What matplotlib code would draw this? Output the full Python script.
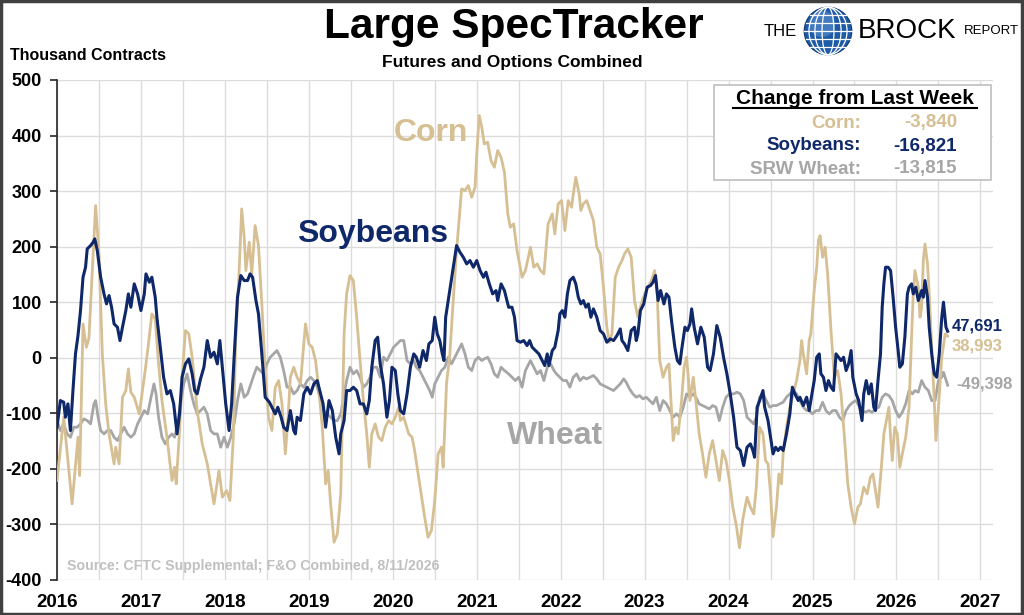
import matplotlib
matplotlib.use("Agg")
import matplotlib.pyplot as plt
from matplotlib.patches import Rectangle, Circle, Ellipse
import numpy as np

plt.rcParams['font.family'] = ['Liberation Sans', 'DejaVu Sans']
plt.rcParams['axes.unicode_minus'] = False

# ---- data (thousand contracts, decimal year) ----
corn_t = [2016.00, 2016.08, 2016.18, 2016.25, 2016.27, 2016.31, 2016.35, 2016.38, 2016.46, 2016.50,
          2016.54, 2016.58, 2016.62, 2016.68, 2016.70, 2016.74, 2016.78, 2016.82, 2016.85, 2016.88,
          2016.92, 2016.98, 2017.04, 2017.08, 2017.13, 2017.17, 2017.21, 2017.25, 2017.31, 2017.37,
          2017.40, 2017.42, 2017.46, 2017.49, 2017.53, 2017.57, 2017.61, 2017.67, 2017.73, 2017.79,
          2017.87, 2017.93, 2017.97, 2018.02, 2018.06, 2018.10, 2018.13, 2018.17, 2018.20, 2018.23,
          2018.25, 2018.29, 2018.32, 2018.36, 2018.40, 2018.44, 2018.48, 2018.52, 2018.56, 2018.60,
          2018.64, 2018.68, 2018.72, 2018.75, 2018.78, 2018.82, 2018.86, 2018.90, 2018.96, 2019.00,
          2019.04, 2019.08, 2019.12, 2019.16, 2019.20, 2019.23, 2019.26, 2019.30, 2019.34, 2019.38,
          2019.42, 2019.45, 2019.49, 2019.53, 2019.57, 2019.61, 2019.65, 2019.69, 2019.72, 2019.75,
          2019.79, 2019.83, 2019.87, 2019.91, 2019.95, 2019.99, 2020.03, 2020.07, 2020.09, 2020.13,
          2020.19, 2020.23, 2020.26, 2020.32, 2020.38, 2020.42, 2020.46, 2020.50, 2020.54, 2020.58,
          2020.60, 2020.64, 2020.68, 2020.72, 2020.76, 2020.82, 2020.86, 2020.90, 2020.94, 2020.98,
          2021.00, 2021.03, 2021.06, 2021.09, 2021.13, 2021.17, 2021.21, 2021.25, 2021.29, 2021.33,
          2021.37, 2021.40, 2021.44, 2021.48, 2021.54, 2021.58, 2021.64, 2021.68, 2021.72, 2021.76,
          2021.80, 2021.82, 2021.85, 2021.90, 2021.93, 2021.97, 2022.01, 2022.05, 2022.09, 2022.13,
          2022.15, 2022.18, 2022.22, 2022.24, 2022.27, 2022.31, 2022.35, 2022.39, 2022.43, 2022.47,
          2022.51, 2022.55, 2022.58, 2022.61, 2022.65, 2022.69, 2022.73, 2022.76, 2022.80, 2022.84,
          2022.88, 2022.92, 2022.96, 2023.00, 2023.04, 2023.08, 2023.12, 2023.15, 2023.18, 2023.22,
          2023.26, 2023.29, 2023.32, 2023.34, 2023.37, 2023.40, 2023.44, 2023.47, 2023.50, 2023.52,
          2023.54, 2023.58, 2023.61, 2023.65, 2023.69, 2023.73, 2023.77, 2023.81, 2023.85, 2023.89,
          2023.93, 2023.97, 2024.01, 2024.05, 2024.09, 2024.13, 2024.17, 2024.22, 2024.26, 2024.30,
          2024.33, 2024.37, 2024.41, 2024.44, 2024.47, 2024.50, 2024.53, 2024.57, 2024.60, 2024.63,
          2024.65, 2024.69, 2024.73, 2024.77, 2024.81, 2024.85, 2024.87, 2024.89, 2024.93, 2024.96,
          2024.98, 2025.02, 2025.05, 2025.07, 2025.09, 2025.12, 2025.15, 2025.18, 2025.22, 2025.26,
          2025.30, 2025.34, 2025.38, 2025.42, 2025.46, 2025.50, 2025.54, 2025.57, 2025.61, 2025.65,
          2025.69, 2025.72, 2025.75, 2025.78, 2025.82, 2025.85, 2025.88, 2025.91, 2025.93, 2025.95,
          2025.98, 2026.01, 2026.04, 2026.07, 2026.11, 2026.15, 2026.18, 2026.20, 2026.22, 2026.26,
          2026.28, 2026.30, 2026.32, 2026.34, 2026.37, 2026.39, 2026.42, 2026.45, 2026.47, 2026.50,
          2026.54, 2026.58, 2026.61]
corn_v = [-221, -107, -263, -143, -212, 61, 19, 35, 274, 187,
          7, -83, -137, -191, -161, -191, -71, -59, -20, -62,
          -71, -101, -35, 13, 79, 70, -11, -77, -143, -221,
          -197, -227, -131, -35, 49, 43, 1, -95, -155, -191,
          -263, -203, -251, -239, -257, -143, 37, 157, 268, 217,
          157, 208, 151, 238, 202, 97, -23, -107, -131, -53,
          -41, -83, -173, -113, -35, -17, -35, -47, 61, 25,
          19, -5, -59, -125, -227, -203, -263, -332, -317, -245,
          43, 115, 148, 139, 73, -5, -77, -137, -197, -137,
          -119, -143, -149, -125, -113, -119, -107, -89, -113, -107,
          -137, -143, -167, -227, -287, -323, -311, -257, -173, -161,
          -197, -47, 7, 103, 193, 304, 301, 310, 289, 307,
          367, 436, 415, 385, 388, 355, 343, 373, 361, 334,
          259, 235, 241, 193, 145, 157, 199, 163, 169, 157,
          151, 187, 241, 259, 223, 277, 283, 229, 283, 271,
          295, 325, 295, 265, 277, 283, 265, 247, 199, 187,
          127, 55, 28, 43, 145, 163, 175, 187, 196, 181,
          103, 73, 97, 115, 127, 139, 157, 115, -5, -35,
          -17, -11, -95, -149, -125, -137, -77, -17, 1, -35,
          -77, -35, -77, -137, -173, -215, -173, -149, -185, -221,
          -167, -185, -221, -269, -300, -342, -290, -251, -269, -281,
          -233, -125, -137, -185, -191, -245, -322, -269, -209, -227,
          -173, -125, -89, -65, -41, -5, 31, 7, -29, 31,
          43, 121, 163, 211, 220, 181, 199, 151, 49, -35,
          -23, -65, -143, -227, -269, -299, -269, -263, -233, -245,
          -215, -209, -239, -269, -197, -137, -113, -89, -143, -185,
          -125, -137, -197, -173, -143, -89, 37, 115, 157, 127,
          73, 91, 175, 205, 169, 115, 19, -77, -149, -89,
          1, 43, 38.993]

soy_t = [2016.00, 2016.04, 2016.08, 2016.10, 2016.13, 2016.16, 2016.19, 2016.22, 2016.25, 2016.28,
         2016.31, 2016.34, 2016.36, 2016.40, 2016.43, 2016.45, 2016.48, 2016.52, 2016.56, 2016.59,
         2016.62, 2016.65, 2016.68, 2016.72, 2016.75, 2016.78, 2016.82, 2016.85, 2016.88, 2016.92,
         2016.96, 2017.00, 2017.04, 2017.06, 2017.10, 2017.13, 2017.17, 2017.19, 2017.23, 2017.27,
         2017.31, 2017.35, 2017.39, 2017.43, 2017.46, 2017.49, 2017.53, 2017.57, 2017.61, 2017.64,
         2017.67, 2017.71, 2017.75, 2017.79, 2017.83, 2017.87, 2017.91, 2017.94, 2017.97, 2018.01,
         2018.05, 2018.08, 2018.11, 2018.15, 2018.19, 2018.23, 2018.27, 2018.30, 2018.33, 2018.37,
         2018.40, 2018.44, 2018.48, 2018.53, 2018.56, 2018.60, 2018.63, 2018.67, 2018.70, 2018.74,
         2018.78, 2018.82, 2018.84, 2018.86, 2018.90, 2018.94, 2018.98, 2019.02, 2019.06, 2019.10,
         2019.14, 2019.17, 2019.20, 2019.24, 2019.28, 2019.32, 2019.36, 2019.38, 2019.42, 2019.45,
         2019.49, 2019.53, 2019.57, 2019.61, 2019.65, 2019.69, 2019.72, 2019.75, 2019.79, 2019.82,
         2019.85, 2019.89, 2019.93, 2019.96, 2019.99, 2020.03, 2020.06, 2020.09, 2020.13, 2020.17,
         2020.21, 2020.25, 2020.28, 2020.32, 2020.36, 2020.40, 2020.43, 2020.47, 2020.50, 2020.53,
         2020.56, 2020.59, 2020.61, 2020.63, 2020.66, 2020.69, 2020.72, 2020.76, 2020.80, 2020.84,
         2020.88, 2020.92, 2020.96, 2021.00, 2021.04, 2021.08, 2021.11, 2021.15, 2021.19, 2021.23,
         2021.25, 2021.29, 2021.33, 2021.38, 2021.42, 2021.45, 2021.48, 2021.52, 2021.56, 2021.60,
         2021.63, 2021.66, 2021.70, 2021.74, 2021.78, 2021.81, 2021.84, 2021.86, 2021.90, 2021.93,
         2021.97, 2021.99, 2022.02, 2022.05, 2022.08, 2022.11, 2022.15, 2022.18, 2022.21, 2022.24,
         2022.27, 2022.30, 2022.33, 2022.36, 2022.39, 2022.43, 2022.47, 2022.51, 2022.55, 2022.59,
         2022.63, 2022.67, 2022.71, 2022.73, 2022.76, 2022.80, 2022.84, 2022.88, 2022.90, 2022.92,
         2022.95, 2022.99, 2023.03, 2023.07, 2023.10, 2023.13, 2023.16, 2023.19, 2023.23, 2023.26,
         2023.29, 2023.32, 2023.36, 2023.39, 2023.42, 2023.44, 2023.48, 2023.51, 2023.54, 2023.56,
         2023.59, 2023.63, 2023.67, 2023.71, 2023.75, 2023.78, 2023.82, 2023.86, 2023.90, 2023.94,
         2023.98, 2024.02, 2024.06, 2024.10, 2024.14, 2024.18, 2024.22, 2024.26, 2024.29, 2024.31,
         2024.34, 2024.37, 2024.41, 2024.43, 2024.47, 2024.50, 2024.53, 2024.56, 2024.59, 2024.62,
         2024.65, 2024.69, 2024.73, 2024.76, 2024.79, 2024.83, 2024.85, 2024.89, 2024.93, 2024.96,
         2025.00, 2025.02, 2025.05, 2025.08, 2025.10, 2025.13, 2025.16, 2025.19, 2025.22, 2025.25,
         2025.28, 2025.31, 2025.34, 2025.37, 2025.40, 2025.43, 2025.46, 2025.48, 2025.52, 2025.55,
         2025.59, 2025.61, 2025.64, 2025.67, 2025.70, 2025.73, 2025.75, 2025.78, 2025.81, 2025.83,
         2025.85, 2025.87, 2025.90, 2025.93, 2025.96, 2025.99, 2026.02, 2026.04, 2026.07, 2026.10,
         2026.13, 2026.15, 2026.18, 2026.20, 2026.23, 2026.26, 2026.30, 2026.32, 2026.34, 2026.37,
         2026.39, 2026.42, 2026.45, 2026.48, 2026.51, 2026.54, 2026.56, 2026.59, 2026.61]
soy_v = [-125, -77, -80, -107, -83, -131, -59, 7, 40, 85,
         145, 163, 196, 202, 208, 214, 193, 145, 115, 97,
         112, 91, 61, 55, 31, 55, 85, 115, 91, 133,
         115, 85, 115, 151, 136, 145, 109, 73, 19, -35,
         -65, -59, -83, -137, -101, -35, -11, -2, -29, -59,
         -65, -38, -17, 31, 1, 10, -11, 31, -17, -83,
         -131, -83, 1, 109, 148, 139, 139, 151, 145, 103,
         79, 7, -71, -80, -89, -101, -89, -107, -125, -131,
         -95, -131, -137, -107, -113, -65, -53, -65, -47, -41,
         -65, -83, -125, -77, -95, -143, -173, -137, -113, -59,
         -59, -53, -59, -83, -83, -101, -77, -17, 31, 37,
         -11, -47, -107, -77, -17, -23, -65, -95, -101, -65,
         -17, 7, 1, -17, 13, -5, 25, 31, 73, 43,
         31, 7, -5, 73, 103, 133, 163, 202, 190, 181,
         169, 175, 163, 175, 157, 145, 154, 133, 115, 121,
         103, 133, 121, 91, 91, 73, 31, 28, 31, 22,
         31, 19, 13, 7, -5, -14, 7, -14, 13, 19,
         49, 79, 85, 73, 115, 139, 145, 133, 109, 97,
         103, 91, 97, 73, 88, 73, 49, 43, 28, 34,
         31, 40, 52, 31, 25, 13, 49, 55, 31, 43,
         85, 97, 127, 130, 136, 148, 103, 121, 97, 115,
         109, 67, 19, -5, -11, 13, 55, 49, 61, 88,
         55, 25, 55, 37, -17, -23, 7, 58, 37, 1,
         -29, -65, -107, -161, -167, -194, -161, -155, -167, -179,
         -89, -77, -59, -89, -113, -143, -173, -161, -167, -161,
         -167, -137, -101, -53, -65, -77, -71, -86, -71, -95,
         -59, -41, 1, 7, -29, -35, -59, -41, -53, -59,
         7, 1, -5, 1, -23, -11, 13, -35, -65, -77,
         -113, -65, -41, -65, -47, -89, -95, -41, 7, 91,
         133, 163, 163, 157, 109, 55, 13, -17, -11, 37,
         115, 127, 133, 115, 127, 103, 121, 109, 139, 109,
         55, 7, -29, -35, 7, 73, 100, 55, 47.691]

wheat_t = [2016.00, 2016.04, 2016.08, 2016.12, 2016.16, 2016.20, 2016.24, 2016.28, 2016.32, 2016.36,
           2016.40, 2016.44, 2016.46, 2016.49, 2016.52, 2016.56, 2016.60, 2016.64, 2016.68, 2016.72,
           2016.76, 2016.80, 2016.84, 2016.88, 2016.92, 2016.96, 2017.00, 2017.04, 2017.08, 2017.12,
           2017.155, 2017.18, 2017.21, 2017.25, 2017.29, 2017.33, 2017.37, 2017.40, 2017.43, 2017.47,
           2017.51, 2017.55, 2017.59, 2017.63, 2017.67, 2017.71, 2017.75, 2017.79, 2017.83, 2017.87,
           2017.91, 2017.95, 2017.99, 2018.03, 2018.07, 2018.11, 2018.15, 2018.19, 2018.23, 2018.27,
           2018.31, 2018.35, 2018.38, 2018.42, 2018.46, 2018.50, 2018.54, 2018.58, 2018.62, 2018.66,
           2018.70, 2018.74, 2018.78, 2018.82, 2018.86, 2018.90, 2018.94, 2018.98, 2019.02, 2019.06,
           2019.10, 2019.14, 2019.18, 2019.22, 2019.26, 2019.30, 2019.34, 2019.38, 2019.42, 2019.45,
           2019.49, 2019.53, 2019.57, 2019.61, 2019.65, 2019.69, 2019.73, 2019.77, 2019.81, 2019.85,
           2019.89, 2019.93, 2019.97, 2020.01, 2020.05, 2020.09, 2020.13, 2020.17, 2020.21, 2020.25,
           2020.28, 2020.32, 2020.36, 2020.40, 2020.44, 2020.47, 2020.50, 2020.54, 2020.58, 2020.62,
           2020.66, 2020.70, 2020.74, 2020.78, 2020.82, 2020.86, 2020.90, 2020.94, 2020.98, 2021.02,
           2021.06, 2021.09, 2021.13, 2021.17, 2021.21, 2021.25, 2021.29, 2021.33, 2021.38, 2021.42,
           2021.46, 2021.50, 2021.54, 2021.58, 2021.62, 2021.64, 2021.68, 2021.72, 2021.76, 2021.80,
           2021.84, 2021.88, 2021.92, 2021.95, 2021.99, 2022.03, 2022.07, 2022.11, 2022.15, 2022.19,
           2022.23, 2022.27, 2022.31, 2022.35, 2022.39, 2022.43, 2022.47, 2022.51, 2022.55, 2022.59,
           2022.63, 2022.67, 2022.71, 2022.75, 2022.78, 2022.82, 2022.86, 2022.90, 2022.94, 2022.98,
           2023.02, 2023.06, 2023.10, 2023.14, 2023.18, 2023.22, 2023.26, 2023.30, 2023.34, 2023.38,
           2023.42, 2023.46, 2023.50, 2023.54, 2023.58, 2023.61, 2023.65, 2023.69, 2023.73, 2023.77,
           2023.81, 2023.85, 2023.89, 2023.93, 2023.97, 2024.01, 2024.06, 2024.10, 2024.14, 2024.18,
           2024.22, 2024.26, 2024.30, 2024.33, 2024.37, 2024.41, 2024.45, 2024.49, 2024.53, 2024.57,
           2024.61, 2024.65, 2024.69, 2024.73, 2024.77, 2024.81, 2024.85, 2024.89, 2024.93, 2024.96,
           2025.00, 2025.04, 2025.08, 2025.12, 2025.16, 2025.20, 2025.24, 2025.28, 2025.32, 2025.36,
           2025.40, 2025.44, 2025.48, 2025.52, 2025.56, 2025.59, 2025.63, 2025.67, 2025.71, 2025.75,
           2025.79, 2025.83, 2025.87, 2025.91, 2025.95, 2025.99, 2026.03, 2026.07, 2026.11, 2026.15,
           2026.19, 2026.22, 2026.26, 2026.30, 2026.34, 2026.38, 2026.42, 2026.46, 2026.50, 2026.54,
           2026.56, 2026.58, 2026.61]
wheat_v = [-113, -131, -119, -137, -143, -125, -125, -119, -110, -113,
           -119, -83, -77, -107, -131, -137, -131, -131, -143, -149,
           -137, -125, -137, -143, -137, -119, -107, -95, -101, -71,
           -47, -65, -107, -143, -155, -143, -137, -143, -125, -83,
           -47, -29, -59, -83, -101, -95, -89, -101, -131, -137,
           -137, -161, -143, -161, -143, -119, -77, -47, -71, -65,
           -47, -29, -17, -23, -29, -11, 1, 7, 13, 1,
           -23, -53, -53, -65, -59, -47, -53, -41, -35, -41,
           -53, -77, -95, -101, -107, -113, -113, -101, -65, -41,
           -17, -29, -23, -35, -53, -47, -35, -17, -17, -35,
           1, -5, 7, 19, 25, 31, 31, -5, -11, -5,
           -17, -23, -35, -47, -59, -71, -47, -35, -23, -17,
           1, -11, 1, 13, 25, 7, -17, -23, -5, 1,
           -5, -2, 1, -11, -29, -35, -17, -23, -29, -35,
           -41, -35, -53, -23, -11, -5, -17, -29, -23, -41,
           -17, -11, -23, -29, -35, -41, -41, -53, -35, -29,
           -41, -35, -38, -35, -32, -38, -47, -50, -53, -56,
           -59, -53, -47, -38, -44, -56, -65, -71, -68, -74,
           -71, -77, -83, -71, -95, -77, -83, -95, -107, -101,
           -107, -89, -65, -71, -65, -71, -83, -86, -89, -92,
           -86, -89, -113, -89, -71, -65, -65, -62, -65, -77,
           -107, -113, -119, -107, -71, -65, -77, -89, -86, -86,
           -83, -80, -71, -65, -59, -65, -77, -89, -95, -95,
           -101, -95, -95, -80, -95, -101, -95, -95, -107, -113,
           -95, -86, -80, -77, -89, -95, -98, -95, -98, -92,
           -89, -71, -65, -68, -77, -95, -107, -98, -83, -59,
           -65, -59, -62, -41, -53, -59, -77, -77, -41, -35,
           -26, -35, -49.398]

change_names = ["Corn:", "Soybeans:", "SRW Wheat:"]
change_vals = [-3840, -16821, -13815]

# ---- style ----
c_corn = '#d6bf93'
c_soy = '#0f2869'
c_wheat = '#a6a6a6'
W, H = 1024, 615

fig = plt.figure(figsize=(10.24, 6.15), dpi=100)
ax = fig.add_axes([57 / W, 1 - 580 / H, (993 - 57) / W, 500 / H])

ax.plot(wheat_t, wheat_v, color=c_wheat, lw=2.0, zorder=3, solid_joinstyle='round')
ax.plot(corn_t, corn_v, color=c_corn, lw=2.0, zorder=4, solid_joinstyle='round')
ax.plot(soy_t, soy_v, color=c_soy, lw=2.2, zorder=5, solid_joinstyle='round')

ax.set_xlim(2016, 2027.15)
ax.set_ylim(-400, 500)
ax.set_yticks(np.arange(-400, 501, 100))
ax.set_xticks(np.arange(2016, 2028, 1))
ax.set_xticks(np.arange(2016.5, 2027.1, 0.5), minor=True)
ax.set_xticklabels([str(y) for y in range(2016, 2028)])
ax.grid(axis='y', color='#dcdcdc', lw=1)
ax.grid(axis='x', which='both', color='#dcdcdc', lw=1)
ax.set_axisbelow(True)
for s in ['top', 'right', 'bottom']:
    ax.spines[s].set_visible(False)
ax.spines['left'].set_color('#262626')
ax.spines['left'].set_linewidth(1.2)
ax.tick_params(axis='y', length=5, width=1.2, color='#262626', pad=6, labelsize=13)
ax.tick_params(axis='x', which='both', length=0, pad=10, labelsize=13.5)
for lab in ax.get_xticklabels() + ax.get_yticklabels():
    lab.set_fontweight('bold')

# series labels
ax.text(2020.46, 405, "Corn", color=c_corn, fontsize=23, fontweight='bold', ha='center', va='center')
ax.text(2019.76, 222, "Soybeans", color=c_soy, fontsize=23, fontweight='bold', ha='center', va='center')
ax.text(2021.93, -141, "Wheat", color=c_wheat, fontsize=23, fontweight='bold', ha='center', va='center')

# end labels
ax.text(2026.66, soy_v[-1] + 9, f"{soy_v[-1] * 1000:,.0f}", color=c_soy, fontsize=12,
        fontweight='bold', va='center', ha='left')
ax.text(2026.66, corn_v[-1] - 17, f"{corn_v[-1] * 1000:,.0f}", color=c_corn, fontsize=12,
        fontweight='bold', va='center', ha='left')
ax.text(2026.71, wheat_v[-1] + 2, f"{wheat_v[-1] * 1000:,.0f}", color=c_wheat, fontsize=12,
        fontweight='bold', va='center', ha='left')

ax.text(2016.12, -375, "Source: CFTC Supplemental; F&O Combined, 8/11/2026", color='#c0c0c0',
        fontsize=10.2, fontweight='bold', va='center', ha='left')

# titles
fig.text(514 / W, 1 - 27 / H, "Large SpecTracker", fontsize=30.5, fontweight='bold', ha='center', va='center')
fig.text(512 / W, 1 - 62 / H, "Futures and Options Combined", fontsize=12.5, fontweight='bold',
         ha='center', va='center')
fig.text(10 / W, 1 - 55 / H, "Thousand Contracts", fontsize=11.5, fontweight='bold', ha='left', va='center')

# change box
fig.patches.append(Rectangle((714 / W, 1 - 180 / H), (991 - 714) / W, 95 / H, transform=fig.transFigure,
                             facecolor='white', edgecolor='#bfbfbf', lw=1.2, zorder=10))
fig.text(855 / W, 1 - 98 / H, "Change from Last Week", fontsize=15, fontweight='bold', ha='center',
         va='center', zorder=11)
fig.add_artist(plt.Line2D([733 / W, 977 / W], [1 - 108 / H, 1 - 108 / H], color='black', lw=1.5, zorder=11))
row_colors = [c_corn, c_soy, c_wheat]
for i, (name, val) in enumerate(zip(change_names, change_vals)):
    yy = 1 - (123 + i * 23) / H
    fig.text(861 / W, yy, name, color=row_colors[i], fontsize=13.5, fontweight='bold', ha='right',
             va='center', zorder=11)
    fig.text(957 / W, yy, f"{val:,}", color=row_colors[i], fontsize=13.5, fontweight='bold', ha='right',
             va='center', zorder=11)

# logo
fig.text(797 / W, 1 - 31 / H, "THE", fontsize=12, ha='right', va='center')
fig.text(858 / W, 1 - 31 / H, "BROCK", fontsize=20, ha='left', va='center')
fig.text(964 / W, 1 - 31 / H, "REPORT", fontsize=9.5, ha='left', va='center')
gax = fig.add_axes([803 / W, 1 - 56 / H, 50 / W, 50 / H])
gax.set_xlim(-1.05, 1.05)
gax.set_ylim(-1.05, 1.05)
gax.set_aspect('equal')
gax.axis('off')
gax.add_patch(Circle((0, 0), 1, facecolor='#1f5aa6', edgecolor='#0d3a75', lw=0.8))
gax.add_patch(Circle((-0.25, 0.3), 0.55, facecolor='#6fa3dc', alpha=0.45, lw=0))
for wdt in [0.5, 1.1, 1.6]:
    gax.add_patch(Ellipse((0, 0), wdt, 2, fill=False, edgecolor='white', lw=0.9))
for yl in [-0.66, -0.33, 0, 0.33, 0.66]:
    xx = np.sqrt(1 - yl ** 2)
    gax.plot([-xx, xx], [yl, yl], color='white', lw=0.9)

# frame
fig.patches.append(Rectangle((0.001, 0.002), 0.997, 0.996, transform=fig.transFigure, fill=False,
                             edgecolor='#404040', lw=2.5))

fig.savefig("out.png", dpi=100)
